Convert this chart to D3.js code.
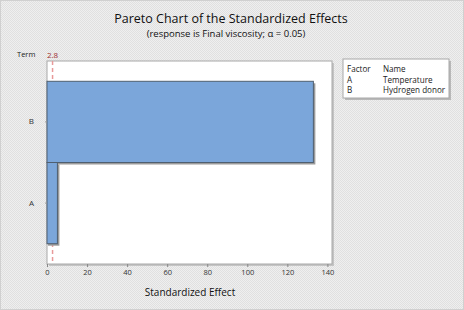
<!DOCTYPE html>
<html><head><meta charset="utf-8">
<script src="https://cdn.jsdelivr.net/npm/d3@7"></script>
<style>body{margin:0;background:#fff}svg{display:block}</style>
</head><body>
<script>
const terms = ["B", "A"];
const effects = [133, 5.2];
const factorCodes = ["A", "B"];
const factorNames = ["Temperature", "Hydrogen donor"];
const xTicks = [0, 20, 40, 60, 80, 100, 120, 140];
const critical = 2.776;
const criticalLabel = "2.8";

const W = 464, H = 310;
const font = "'Open Sans', 'DejaVu Sans', sans-serif";
const svg = d3.select("body").append("svg").attr("width", W).attr("height", H);
const defs = svg.append("defs");
const pat = defs.append("pattern").attr("id", "hatch").attr("width", 2).attr("height", 2).attr("patternUnits", "userSpaceOnUse");
pat.append("rect").attr("width", 2).attr("height", 2).attr("fill", "#efefef");
pat.append("rect").attr("width", 1).attr("height", 1).attr("fill", "#e0e0e0");
pat.append("rect").attr("x", 1).attr("y", 1).attr("width", 1).attr("height", 1).attr("fill", "#e0e0e0");

svg.append("rect").attr("x", 0.5).attr("y", 0.5).attr("width", W - 1).attr("height", H - 1)
  .attr("fill", "url(#hatch)").attr("stroke", "#d0d0d0");

const plot = {l: 47, t: 61, r: 332, b: 264};
const x = d3.scaleLinear().domain([0, 142.3]).range([plot.l, plot.r]);
const y = d3.scaleBand().domain(terms).range([plot.t, plot.b]).paddingInner(0).paddingOuter(0.25);

// plot area with shadow
svg.append("rect").attr("x", plot.l + 2).attr("y", plot.t + 2).attr("width", plot.r - plot.l).attr("height", plot.b - plot.t).attr("fill", "#c4c4c4");
svg.append("rect").attr("x", plot.l).attr("y", plot.t).attr("width", plot.r - plot.l).attr("height", plot.b - plot.t)
  .attr("fill", "#fff").attr("stroke", "#a8a8a8");

// titles
svg.append("text").attr("x", 231).attr("y", 23).attr("text-anchor", "middle")
  .attr("font-family", font).attr("font-size", 12.5).attr("font-weight", 500).attr("fill", "#111")
  .text("Pareto Chart of the Standardized Effects");
svg.append("text").attr("x", 226).attr("y", 37).attr("text-anchor", "middle")
  .attr("font-family", font).attr("font-size", 9.5).attr("font-weight", 500).attr("fill", "#111")
  .text("(response is Final viscosity; α = 0.05)");

// reference line (behind bars)
svg.append("line").attr("x1", x(critical)).attr("x2", x(critical)).attr("y1", plot.t).attr("y2", plot.b)
  .attr("stroke", "#e89a9a").attr("stroke-width", 1.5).attr("stroke-dasharray", "4,3");
svg.append("text").attr("x", x(critical)).attr("y", 58).attr("text-anchor", "middle")
  .attr("font-family", font).attr("font-size", 8).attr("fill", "#a03030").text(criticalLabel);

// bars
const data = terms.map((t, i) => ({t, v: effects[i]}));
svg.selectAll(".shadow").data(data).enter().append("rect")
  .attr("x", x(0) + 1).attr("y", d => y(d.t) + 2)
  .attr("width", d => x(d.v) - x(0) + 1).attr("height", y.bandwidth())
  .attr("fill", "#9a9a9a");
svg.selectAll(".bar").data(data).enter().append("rect")
  .attr("x", x(0)).attr("y", d => y(d.t))
  .attr("width", d => x(d.v) - x(0)).attr("height", y.bandwidth())
  .attr("fill", "#7ba6da").attr("stroke", "#4f5f70").attr("stroke-width", 1);

// axes
const xAxis = svg.append("g").attr("transform", `translate(0,${plot.b})`)
  .call(d3.axisBottom(x).tickValues(xTicks).tickSize(3).tickSizeOuter(0).tickPadding(3));
xAxis.select(".domain").remove();
xAxis.selectAll("line").attr("stroke", "#888");
xAxis.selectAll("text").attr("font-family", font).attr("font-size", 7.5).attr("fill", "#333");

const yAxis = svg.append("g").attr("transform", `translate(${plot.l},0)`)
  .call(d3.axisLeft(y).tickSize(2).tickSizeOuter(0).tickPadding(11));
yAxis.select(".domain").remove();
yAxis.selectAll("line").attr("stroke", "#999");
yAxis.selectAll("text").attr("font-family", font).attr("font-size", 8).attr("fill", "#333");

svg.append("text").attr("x", 190).attr("y", 296).attr("text-anchor", "middle")
  .attr("font-family", font).attr("font-size", 10).attr("font-weight", 500).attr("fill", "#111")
  .text("Standardized Effect");
svg.append("text").attr("x", 17).attr("y", 57)
  .attr("font-family", font).attr("font-size", 7.5).attr("fill", "#222").text("Term");

// legend
const lg = {x: 343, y: 59, w: 106, h: 39};
svg.append("rect").attr("x", lg.x + 2).attr("y", lg.y + 2).attr("width", lg.w).attr("height", lg.h).attr("fill", "#b8b8b8");
svg.append("rect").attr("x", lg.x).attr("y", lg.y).attr("width", lg.w).attr("height", lg.h).attr("fill", "#fff").attr("stroke", "#a8a8a8");
const lt = svg.append("g").attr("font-family", font).attr("font-size", 8.1).attr("fill", "#222");
lt.append("text").attr("x", lg.x + 4).attr("y", lg.y + 13).text("Factor");
lt.append("text").attr("x", lg.x + 40).attr("y", lg.y + 13).text("Name");
factorCodes.forEach((c, i) => {
  lt.append("text").attr("x", lg.x + 4).attr("y", lg.y + 24 + i * 10).text(c);
  lt.append("text").attr("x", lg.x + 40).attr("y", lg.y + 24 + i * 10).text(factorNames[i]);
});
</script>
</body></html>
